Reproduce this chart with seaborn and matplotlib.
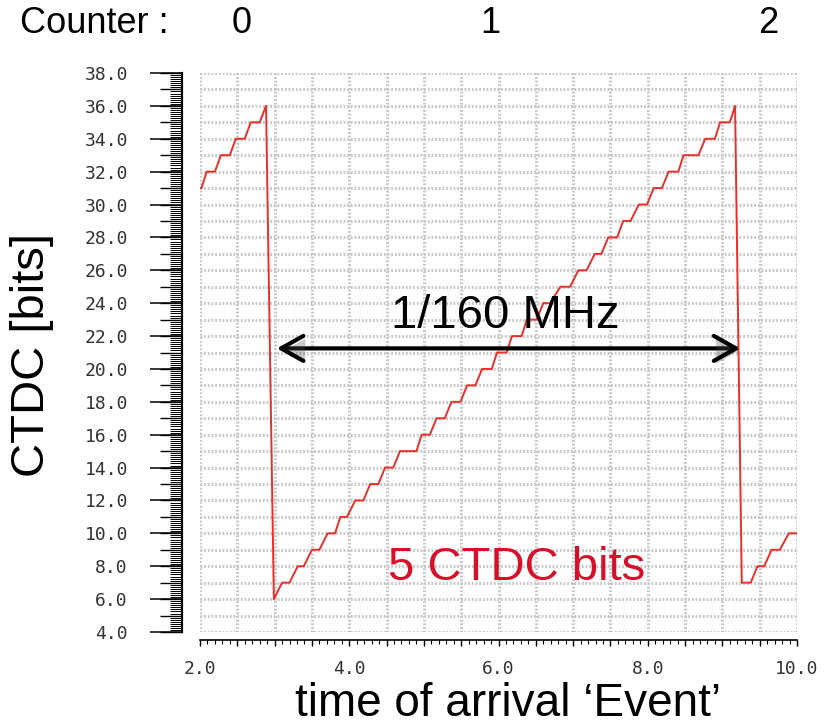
import numpy as np
import pandas as pd
import seaborn as sns
import matplotlib.pyplot as plt
import matplotlib.patheffects as pe
from matplotlib.ticker import MultipleLocator, FuncFormatter, NullLocator

# CTDC staircase (time, bit value at each corner)
toa_time = [2.00, 2.02, 2.09, 2.20, 2.28, 2.40, 2.48, 2.60, 2.68, 2.80, 2.885,
            2.99, 3.10, 3.20, 3.31, 3.39, 3.50, 3.60, 3.71, 3.81, 3.88, 3.97,
            4.08, 4.19, 4.28, 4.39, 4.48, 4.59, 4.68, 4.90, 4.97, 5.08, 5.17,
            5.28, 5.37, 5.49, 5.58, 5.69, 5.78, 5.91, 5.98, 6.11, 6.18, 6.31,
            6.38, 6.51, 6.60, 6.69, 6.83, 6.96, 7.07, 7.18, 7.29, 7.38, 7.47,
            7.59, 7.67, 7.77, 7.88, 7.99, 8.08, 8.19, 8.28, 8.41, 8.48, 8.68,
            8.77, 8.90, 8.97, 9.10, 9.17,
            9.26, 9.38, 9.47, 9.56, 9.66, 9.77, 9.89, 10.00]
ctdc_bits = [31, 31, 32, 32, 33, 33, 34, 34, 35, 35, 36,
             6, 7, 7, 8, 8, 9, 9, 10, 10, 11, 11,
             12, 12, 13, 13, 14, 14, 15, 15, 16, 16, 17,
             17, 18, 18, 19, 19, 20, 20, 21, 21, 22, 22,
             23, 23, 24, 24, 25, 25, 26, 26, 27, 27, 28,
             28, 29, 29, 30, 30, 31, 31, 32, 32, 33, 33,
             34, 34, 35, 35, 36,
             7, 7, 8, 8, 9, 9, 10, 10]

counter_labels = ['0', '1', '2']
period_start = 3.03
period_end = 9.24
period_level = 21.25

sns.set_style('white')
plt.rcParams['font.family'] = ['Liberation Sans', 'DejaVu Sans']
plt.rcParams['text.color'] = 'black'
plt.rcParams['xtick.bottom'] = True
plt.rcParams['ytick.left'] = True

df = pd.DataFrame({'t': toa_time, 'bits': ctdc_bits})

fig = plt.figure(figsize=(8.32, 7.26), dpi=100)
ax = fig.add_axes([200 / 832, 94 / 726, 597 / 832, 559 / 726])

sns.lineplot(data=df, x='t', y='bits', sort=False, estimator=None,
             color='#e8302a', lw=1.4, ax=ax, zorder=3)

ax.set_xlim(2, 10)
ax.set_ylim(4, 38)
ax.set_xlabel('')
ax.set_ylabel('')

# dotted scope grid
ax.xaxis.set_major_locator(MultipleLocator(0.5))
ax.xaxis.set_minor_locator(MultipleLocator(0.1))
ax.yaxis.set_major_locator(MultipleLocator(1))
ax.yaxis.set_minor_locator(MultipleLocator(0.125))
ax.grid(True, which='major', color='#c8c8c8', lw=2.2, ls=(0, (0.6, 0.6)), zorder=0)

for s in ['top', 'right']:
    ax.spines[s].set_visible(False)
ax.spines['left'].set_position(('axes', -18 / 597))
ax.spines['bottom'].set_position(('outward', 5.8))
ax.spines['left'].set_linewidth(1.5)
ax.spines['left'].set_color('black')
ax.spines['bottom'].set_linewidth(1.2)
ax.spines['bottom'].set_color('black')

# x ruler
ax.xaxis.set_major_formatter(FuncFormatter(
    lambda v, p: f'{v:.1f}' if abs(v / 2 - round(v / 2)) < 1e-6 else ''))
ax.tick_params(axis='x', which='major', bottom=True, direction='out', length=4.5,
               width=1, color='black', pad=10, labelsize=13, labelcolor='#333333')
ax.tick_params(axis='x', which='minor', bottom=True, direction='out', length=3,
               width=0.8, color='black')

# y ruler: medium ticks on main axis, long labelled ticks on a secondary axis
ax.tick_params(axis='y', which='major', left=True, direction='out', length=16,
               width=1, color='black', labelleft=False)
ax.tick_params(axis='y', which='minor', left=True, direction='out', length=8.5,
               width=0.7, color='black')

sec = ax.secondary_yaxis(-18 / 597)
sec.set_yticks(np.arange(4, 39, 2))
sec.yaxis.set_minor_locator(NullLocator())
sec.yaxis.set_major_formatter(FuncFormatter(lambda v, p: f'{v:.1f}'))
sec.tick_params(axis='y', left=True, direction='out', length=23, width=1.1,
                color='black', pad=16, labelsize=13, labelcolor='#333333')
sec.spines['left'].set_linewidth(1.5)
sec.spines['left'].set_color('black')
plt.setp(ax.get_xticklabels(), fontfamily='DejaVu Sans Mono')
plt.setp(sec.get_yticklabels(), fontfamily='DejaVu Sans Mono')

# period arrow
ann = ax.annotate('', xy=(period_start, period_level), xytext=(period_end, period_level),
                  arrowprops=dict(arrowstyle='<->,head_length=0.8,head_width=0.45',
                                  lw=3, color='black', mutation_scale=20,
                                  shrinkA=0, shrinkB=0), zorder=5)
ann.arrow_patch.set_path_effects([pe.SimplePatchShadow(offset=(1.5, -2), alpha=0.3),
                                  pe.Normal()])
ax.text(6.09, 22.5, '1/160 MHz', fontsize=34, ha='center', va='baseline', zorder=6)
ax.text(6.24, 7.16, '5 CTDC bits', fontsize=34, color='#d6102b',
        ha='center', va='baseline', zorder=6)

# slide labels
fig.text(20 / 832, 1 - 33 / 726, 'Counter :', fontsize=26, ha='left', va='baseline')
for lab, px in zip(counter_labels, [242, 490, 768]):
    fig.text(px / 832, 1 - 33 / 726, lab, fontsize=26, ha='center', va='baseline')
fig.text(508 / 832, 10 / 726, 'time of arrival \u2018Event\u2019', fontsize=33,
         ha='center', va='baseline')
fig.text(32 / 832, 1 - 355 / 726, 'CTDC [bits]', fontsize=34, rotation=90,
         ha='center', va='center')

fig.savefig('out.png', dpi=100)
